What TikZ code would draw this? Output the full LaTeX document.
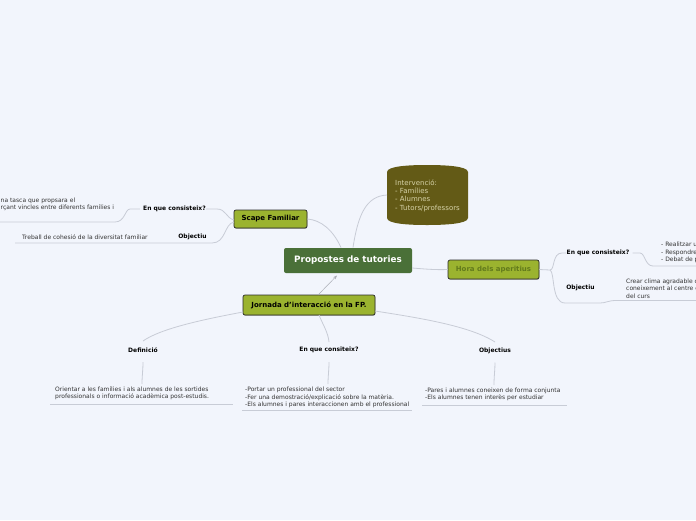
\documentclass[tikz,border=0pt]{standalone}
\usepackage{fontspec}
\setmainfont{DejaVu Sans}
\usetikzlibrary{shadows,arrows.meta}
\definecolor{bg}{HTML}{F2F5FC}
\definecolor{centralfill}{HTML}{4A7038}
\definecolor{boxfill}{HTML}{9BB32F}
\definecolor{boxborder}{HTML}{2A2A2A}
\definecolor{intfill}{HTML}{635A16}
\definecolor{inttext}{HTML}{D6D2A8}
\definecolor{horatext}{HTML}{627A1C}
\definecolor{linecol}{HTML}{C8CCD6}
\definecolor{txtcol}{HTML}{333333}
\tikzset{
  topbox/.style={draw=boxborder, line width=0.7pt, fill=boxfill, rounded corners=2pt,
    inner sep=0pt, font=\fontsize{7}{8}\selectfont\bfseries,
    drop shadow={shadow xshift=0.4pt, shadow yshift=-0.8pt, fill=black!45, opacity=0.6}},
  lbl/.style={inner sep=0pt, font=\fontsize{6}{7}\selectfont\bfseries},
  txt/.style={inner sep=0pt, align=left, text=txtcol, font=\fontsize{6}{7.4}\selectfont},
  conn/.style={draw=linecol, line width=0.8pt},
}
\begin{document}
\begin{tikzpicture}[x=1pt,y=-1pt]
\clip (0,0) rectangle (696,520);
\fill[bg] (0,0) rectangle (696,520);

% Intervencio shape
\path[fill=intfill] (387,172) -- (387,218) .. controls (387,224) and (410,225) .. (427,225)
  .. controls (444,225) and (468,224) .. (468,218) -- (468,172)
  .. controls (468,166) and (444,165) .. (427,165)
  .. controls (410,165) and (387,166) .. (387,172) -- cycle;
\node[anchor=west, inner sep=0pt, align=left, text=inttext, font=\fontsize{7}{8.3}\selectfont] (interv) at (395,195.5)
  {Intervenció:\\- Famílies\\- Alumnes\\- Tutors/professors};
\coordinate (intervL) at (387,195);

% main nodes
\node[fill=centralfill, rounded corners=2pt, minimum width=128pt, minimum height=25pt, inner sep=0pt,
  text=white, font=\fontsize{8.8}{10}\selectfont\bfseries] (central) at (348,260.5) {Propostes de tutories};
\node[topbox, minimum width=73pt, minimum height=18pt] (scape) at (270.5,219) {Scape Familiar};
\node[topbox, minimum width=132pt, minimum height=20pt] (jornada) at (309,305) {Jornada d’interacció en la FP.};
\node[topbox, minimum width=91pt, minimum height=19pt, text=horatext] (hora) at (493.5,269.5) {Hora dels aperitius};

% main connectors
\draw[conn] (353,247.5) .. controls (358,215) and (366,196) .. (intervL);
\draw[conn] (341,247.5) .. controls (333,230) and (321,220) .. (scape.east);
\draw[conn] (central.east) ++(0,7.5) .. controls (425,269) and (435,270) .. (hora.west);
\draw[draw=linecol!85!black, line width=0.5pt, -{Stealth[length=4pt,width=3pt]}] (318,295) -- (337,275.5);

% Scape children
\node[lbl] (s1) at (174.5,209) {En que consisteix?};
\node[lbl] (s2) at (192.5,237) {Objectiu};
\node[txt, anchor=west] (s1t) at (0.5,204.5) {na tasca que propsara el\\rçant vincles entre diferents famílies i};
\node[txt, anchor=west] (s2t) at (22,237) {Treball de cohesió de la diversitat familiar};
\draw[conn] (234,220) .. controls (226,218) and (226,209) .. (217,209) -- (s1.east) ++(3,0);
\draw[conn] (s1.west) ++(-3,0) -- (130,209) .. controls (125,209) and (125,222) .. (115,222) -- (0,222);
\draw[conn] (234,222) .. controls (224,224) and (226,243) .. (212,243) -- (15,243);

% Hora children
\node[lbl] (h1) at (598,253) {En que consisteix?};
\node[lbl] (h2) at (580.5,288) {Objectiu};
\node[txt, anchor=west] (h1t) at (661,252.5) {- Realitzar u\\- Respondre\\- Debat de p};
\node[txt, anchor=west] (h2t) at (626,288.5) {Crear clima agradable c\\coneixement al centre e\\del curs};
\draw[conn] (hora.east) -- (550,270) .. controls (555,270) and (552,253) .. (562,253) -- (h1.west);
\draw[conn] (h1.east) ++(3,0) -- (640,253) .. controls (645,253) and (645,266) .. (653,266) -- (696,266);
\draw[conn] (550,270) .. controls (555,272) and (551,303) .. (565,303) -- (600,303)
  .. controls (606,303) and (608,300.5) .. (616,300.5) -- (696,300.5);

% Jornada children
\node[lbl] (j1) at (143,350) {Definició};
\node[lbl] (j2) at (329,350) {En que consiteix?};
\node[lbl] (j3) at (495,351) {Objectius};
\node[txt, anchor=west] (j1t) at (55,393.5) {Orientar a les famílies i als alumnes de les  sortides\\professionals o informació acadèmica post-estudis.};
\node[txt, anchor=west] (j2t) at (245,397.5) {-Portar un professional del sector\\-Fer una demostració/explicació sobre la matèria.\\-Els alumnes i pares interaccionen amb el professional};
\node[txt, anchor=west] (j3t) at (425,394.5) {-Pares i alumnes coneixen de forma conjunta\\-Els alumnes tenen interès per estudiar};

\draw[conn] (243,312) .. controls (200,320) and (160,329) .. (143,341);
\draw[conn] (319,315) .. controls (323,325) and (328,332) .. (329,342);
\draw[conn] (375,311) .. controls (420,318) and (470,326) .. (495,342);

\draw[conn] (143,362) .. controls (143,370) and (142,376) .. (142,384);
\draw[conn] (329,362) .. controls (329,370) and (328,376) .. (328,384);
\draw[conn] (495,362.5) .. controls (495,370) and (494,376) .. (494,385);

\draw[conn] (50,404) -- (233,404);
\draw[conn] (242,410.5) -- (412,410.5);
\draw[conn] (422,405) -- (567,405);
\end{tikzpicture}
\end{document}
